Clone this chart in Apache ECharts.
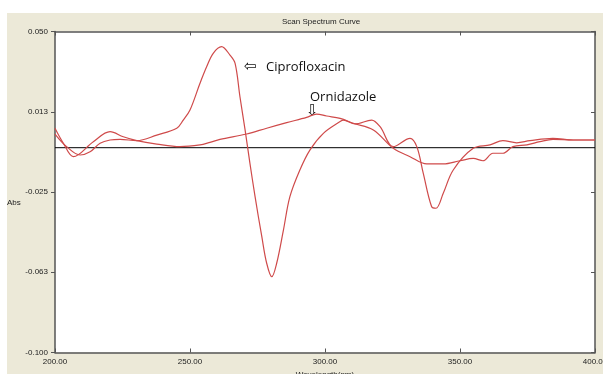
<!DOCTYPE html>
<html><head><meta charset="utf-8">
<script src="https://cdn.jsdelivr.net/npm/echarts@6/dist/echarts.min.js"></script>
<style>
html,body{margin:0;padding:0;background:#fff;}
#wrap{position:relative;width:603px;height:374px;overflow:hidden;background:#fff;}
#bg{position:absolute;left:7px;top:13px;right:0;bottom:0;background:#ECE9D8;}
#chart{position:absolute;left:0;top:0;width:603px;height:374px;}
</style></head><body>
<div id="wrap"><div id="bg"></div><div id="chart"></div></div>
<script>
// Ciprofloxacin spectrum (wavelength nm, absorbance)
const ciproWavelength = [200.0, 204.3, 209.3, 213.0, 216.7, 220.4, 224.1, 230.3, 237.7, 245.1, 247.5, 250.0, 253.7, 256.2, 258.6, 261.7, 264.8, 266.7, 268.5, 270.4, 272.2, 274.1, 276.6, 278.4, 280.3, 282.1, 284.6, 287.0, 290.7, 294.4, 299.4, 305.6, 306.8, 311.1, 317.3, 320.4, 325.3, 331.5, 334.0, 336.4, 339.5, 341.1, 343.8, 347.5, 354.9, 361.1, 365.9, 371.0, 375.9, 384.4, 391.9, 400.0];
const ciproAbs = [0.0021, -0.0038, -0.0077, -0.0062, -0.0022, -0.0007, -0.0004, -0.0010, 0.0016, 0.0048, 0.0086, 0.0133, 0.0258, 0.0336, 0.0398, 0.0429, 0.0390, 0.0351, 0.0195, 0.0040, -0.0116, -0.0272, -0.0459, -0.0583, -0.0646, -0.0583, -0.0428, -0.0272, -0.0147, -0.0054, 0.0024, 0.0079, 0.0086, 0.0068, 0.0086, 0.0055, -0.0038, 0.0001, -0.0038, -0.0163, -0.0319, -0.0326, -0.0256, -0.0147, -0.0046, -0.0030, -0.0010, -0.0020, -0.0010, 0.0001, -0.0007, -0.0007];
// Ornidazole spectrum
const ornWavelength = [200.0, 203.1, 206.8, 214.2, 220.4, 225.3, 230.3, 237.7, 246.3, 253.7, 257.4, 261.1, 271.0, 278.4, 285.8, 293.2, 296.9, 300.6, 305.6, 310.5, 317.9, 325.3, 331.5, 337.7, 343.8, 350.0, 354.9, 358.5, 362.2, 365.9, 369.6, 374.8, 379.6, 384.4, 391.9, 400.0];
const ornAbs = [0.0048, -0.0022, -0.0085, -0.0015, 0.0032, 0.0008, -0.0010, -0.0026, -0.0038, -0.0030, -0.0018, -0.0004, 0.0021, 0.0048, 0.0074, 0.0099, 0.0114, 0.0105, 0.0094, 0.0071, 0.0040, -0.0046, -0.0085, -0.0119, -0.0119, -0.0104, -0.0093, -0.0104, -0.0069, -0.0069, -0.0038, -0.0030, -0.0015, -0.0004, -0.0007, -0.0007];
const yTicks = [0.05, 0.0125, -0.025, -0.0625, -0.1];
const baselineWavelength = [200, 400];
const baselineAbs = [-0.0043, -0.0043];

const zip = (xs, ys) => xs.map((x, i) => [x, ys[i]]);
const frame = {onZero: false, lineStyle: {color: '#555', width: 1.5}};
const lbl = {fontFamily: 'Liberation Sans', fontSize: 8, color: '#222'};
const curveColor = '#cf4a4a';

const chart = echarts.init(document.getElementById('chart'), null, {renderer: 'canvas'});
chart.setOption({
  backgroundColor: 'transparent',
  animation: false,
  grid: {left: 55, right: 8, top: 31.5, bottom: 21.5, show: true, backgroundColor: '#fff', borderWidth: 0,
         containLabel: false, outerBoundsMode: 'none'},
  xAxis: [
    {type: 'value', min: 200, max: 400, interval: 50, position: 'bottom',
     axisLine: frame, axisTick: {inside: true, length: 4, lineStyle: {color: '#555'}},
     axisLabel: Object.assign({margin: 5, formatter: v => v.toFixed(2)}, lbl),
     splitLine: {show: false},
     name: 'Wavelength(nm)', nameLocation: 'middle', nameGap: 12, nameTextStyle: lbl},
    {type: 'value', min: 200, max: 400, interval: 50, position: 'top',
     axisLine: frame, axisTick: {inside: true, length: 4, lineStyle: {color: '#555'}},
     axisLabel: {show: false}, splitLine: {show: false}}
  ],
  yAxis: [
    {type: 'value', min: -0.1, max: 0.05, position: 'left',
     axisLine: frame, axisTick: {inside: false, length: 4, customValues: yTicks, lineStyle: {color: '#555'}},
     axisLabel: Object.assign({margin: 7, customValues: yTicks, formatter: v => v.toFixed(3)}, lbl),
     splitLine: {show: false}},
    {type: 'value', min: -0.1, max: 0.05, position: 'right',
     axisLine: frame, axisTick: {inside: true, length: 4, customValues: yTicks, lineStyle: {color: '#555'}},
     axisLabel: {show: false}, splitLine: {show: false}}
  ],
  series: [
    {name: 'Baseline', type: 'line', data: zip(baselineWavelength, baselineAbs), showSymbol: false,
     lineStyle: {color: '#000', width: 1}, z: 2, silent: true},
    {name: 'Ciprofloxacin', type: 'line', data: zip(ciproWavelength, ciproAbs), smooth: 0.35,
     showSymbol: false, lineStyle: {color: curveColor, width: 1.2}, z: 3},
    {name: 'Ornidazole', type: 'line', data: zip(ornWavelength, ornAbs), smooth: 0.35,
     showSymbol: false, lineStyle: {color: curveColor, width: 1.2}, z: 3}
  ],
  graphic: [
    {type: 'text', left: 282, top: 18, style: {text: 'Scan Spectrum Curve', fontFamily: 'Liberation Sans', fontSize: 8, fill: '#222', align: 'center'}},
    {type: 'text', x: 7, y: 199, style: {text: 'Abs', fontFamily: 'Liberation Sans', fontSize: 8, fill: '#222'}},
    {type: 'text', x: 244, y: 60, style: {text: '\u21E6', fontFamily: 'DejaVu Sans', fontSize: 15, fill: '#111'}},
    {type: 'text', x: 266, y: 61, style: {text: 'Ciprofloxacin', fontFamily: 'Open Sans', fontSize: 13, fill: '#111'}},
    {type: 'text', x: 310, y: 91, style: {text: 'Ornidazole', fontFamily: 'Open Sans', fontSize: 13, fill: '#111'}},
    {type: 'text', x: 306, y: 104, style: {text: '\u21E9', fontFamily: 'DejaVu Sans', fontSize: 15, fill: '#111'}}
  ]
});
</script>
</body></html>
